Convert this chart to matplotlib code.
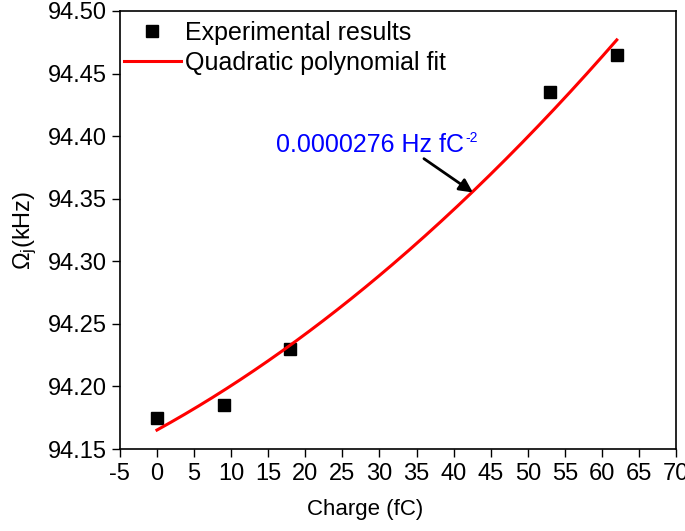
import numpy as np
import matplotlib
matplotlib.use("Agg")
import matplotlib.pyplot as plt

plt.rcParams['font.family'] = ['Liberation Sans', 'DejaVu Sans']
plt.rcParams['mathtext.fontset'] = 'custom'
plt.rcParams['mathtext.rm'] = 'Liberation Sans'
plt.rcParams['mathtext.it'] = 'Liberation Sans'
plt.rcParams['axes.unicode_minus'] = False

charge = np.array([0, 9, 18, 53, 62])
omega = np.array([94.175, 94.185, 94.230, 94.435, 94.465])

xticks = np.arange(-5, 71, 5)
yticks = [94.15, 94.20, 94.25, 94.30, 94.35, 94.40, 94.45, 94.50]

# quadratic fit of the data
coef = np.polyfit(charge, omega, 2)
xfit = np.linspace(0, 62, 200)
yfit = np.polyval(coef, xfit)

fig = plt.figure(figsize=(6.85, 5.31), dpi=100)
ax = fig.add_axes([0.175, 0.1544, 0.812, 0.8249])

ax.plot(charge, omega, 's', color='black', ms=8, label='Experimental results')
ax.plot(xfit, yfit, '-', color='red', lw=2.2, label='Quadratic polynomial fit')

ax.set_xlim(-5, 70)
ax.set_ylim(94.15, 94.50)
ax.set_xticks(xticks)
ax.set_yticks(yticks)
ax.set_yticklabels([f"{v:.2f}" for v in yticks])
ax.tick_params(direction='out', length=6, width=1, labelsize=17, colors='black')
ax.tick_params(axis='x', pad=4)
for s in ax.spines.values():
    s.set_linewidth(1.2)

ax.set_xlabel('Charge (fC)', fontsize=16, labelpad=8)
ax.xaxis.set_label_coords(0.441, -0.115)
ax.set_ylabel(r'$\Omega_j$(kHz)', fontsize=17, labelpad=6)

ax.annotate('', xy=(42.6, 94.355), xytext=(36.0, 94.382),
            arrowprops=dict(arrowstyle='-|>', color='black', lw=2,
                            mutation_scale=20, shrinkA=0, shrinkB=0))
t = ax.text(16.1, 94.387, '0.0000276 Hz fC', color='blue',
            fontsize=18, va='baseline')
ax.annotate('-2', xy=(1.0, 1.0), xycoords=t, xytext=(1, 2),
            textcoords='offset points', ha='left', va='top',
            color='blue', fontsize=10)

ax.legend(loc='upper left', bbox_to_anchor=(0.0, 0.986), frameon=False,
          fontsize=18, handlelength=2.3, handletextpad=0.15,
          borderaxespad=0.0, labelspacing=0.25, borderpad=0.15)

fig.savefig('out.png', dpi=100)
